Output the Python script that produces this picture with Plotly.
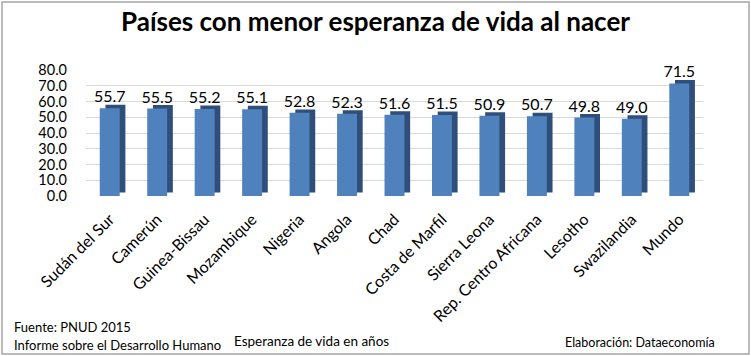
import plotly.graph_objects as go

paises = ["Sudán del Sur", "Camerún", "Guinea-Bissau", "Mozambique", "Nigeria", "Angola",
          "Chad", "Costa de Marfil", "Sierra Leona", "Rep. Centro Africana", "Lesotho",
          "Swazilandia", "Mundo"]
esperanza = [55.7, 55.5, 55.2, 55.1, 52.8, 52.3, 51.6, 51.5, 50.9, 50.7, 49.8, 49.0, 71.5]
y_ticks = [0, 10, 20, 30, 40, 50, 60, 70, 80]

FONT = "Lato"
front = "#4f81bd"
side = "#2f4f7a"

L, R, T, B = 86, 48, 70, 160
W, H = 751, 356
PW, PH = W - L - R, H - T - B

fig = go.Figure()
# 3D depth: dark back face shifted right/up
fig.add_trace(go.Bar(x=paises, y=esperanza, base=[2.2] * len(esperanza),
                     offset=-0.21 + 0.12, width=0.42,
                     marker=dict(color=side, line=dict(width=0)),
                     hoverinfo="skip", showlegend=False))
fig.add_trace(go.Bar(x=paises, y=esperanza, offset=-0.21, width=0.42,
                     marker=dict(color=front, line=dict(width=0)),
                     text=[f"{v:.1f}" for v in esperanza], textposition="outside",
                     constraintext="none",
                     textfont=dict(family=FONT, size=16, color="black"),
                     cliponaxis=False, showlegend=False))

fig.update_layout(
    width=W, height=H,
    barmode="overlay",
    paper_bgcolor="white", plot_bgcolor="white",
    margin=dict(l=L, r=R, t=T, b=B),
    title=dict(text="<b>Países con menor esperanza de vida al nacer</b>",
               x=0.5, xanchor="center", y=1 - 22 / H, yanchor="middle",
               font=dict(family=FONT, size=26, color="black")),
    xaxis=dict(tickangle=-45, tickfont=dict(family=FONT, size=16, color="black"),
               showgrid=False, showline=False, ticks="", ticklabelstandoff=10),
    yaxis=dict(range=[0, 80], tickvals=y_ticks, tickformat=".1f",
               tickfont=dict(family=FONT, size=14.5, color="black"),
               ticklabelstandoff=18,
               showgrid=True, gridcolor="#d9d9d9", zeroline=False, showline=False),
)


def foot(text, px, py, anchor, size=13):
    fig.add_annotation(text=text, xref="paper", yref="paper",
                       x=(px - L) / PW, y=(H - B - py) / PH,
                       xanchor=anchor, yanchor="middle", showarrow=False,
                       font=dict(family=FONT, size=size, color="black"))


foot("Fuente: PNUD 2015", 12, 327, "left")
foot("Informe sobre el Desarrollo Humano", 12, 345, "left")
foot("Esperanza de vida en años", 311, 341, "center", 13.5)
foot("Elaboración: Dataeconomía", 717, 342, "right", 12.5)

fig.add_shape(type="rect", xref="paper", yref="paper",
              x0=(2 - L) / PW, x1=(749 - L) / PW,
              y0=(H - B - 354) / PH, y1=(H - B - 2) / PH,
              line=dict(color="#a6a6a6", width=1.5), layer="below")

fig.write_html("out.html", config={"displayModeBar": False},
               post_script="document.body.style.margin='0';")
